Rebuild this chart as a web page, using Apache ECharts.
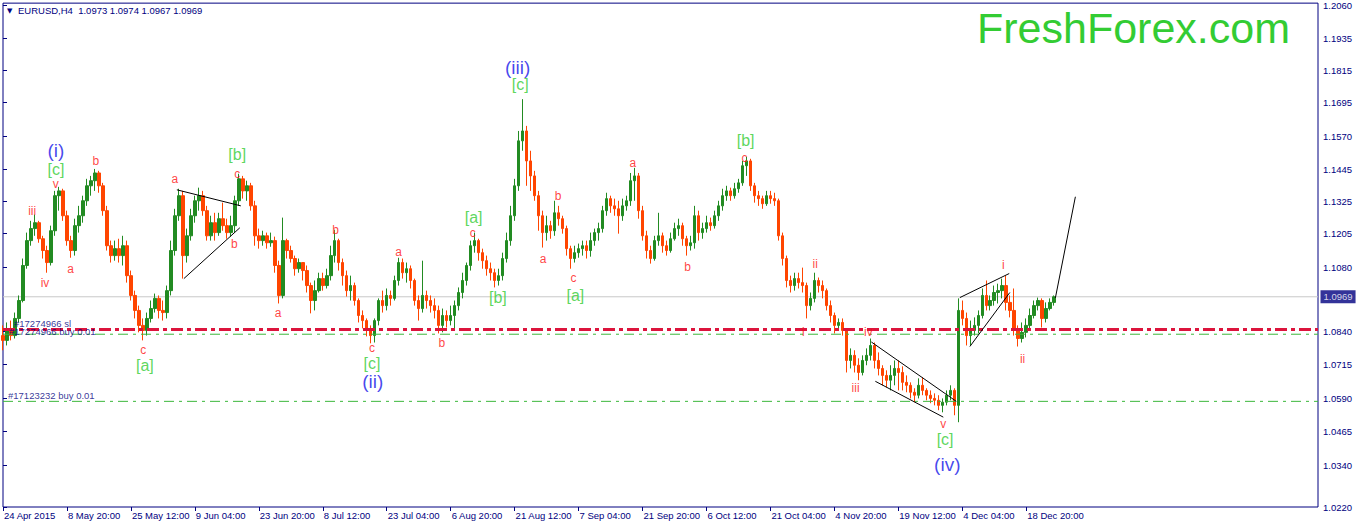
<!DOCTYPE html>
<html><head><meta charset="utf-8">
<script src="https://cdn.jsdelivr.net/npm/echarts@6/dist/echarts.min.js"></script>
<style>html,body{margin:0;padding:0;background:#fff}#chart{width:1358px;height:527px}</style>
</head><body><div id="chart"></div>
<script>
// ---- data (EURUSD H4, one entry per ~4 bars) ----
const xTickLabels = ['24 Apr 2015','8 May 20:00','25 May 12:00','9 Jun 04:00','23 Jun 20:00','8 Jul 12:00','23 Jul 04:00','6 Aug 20:00','21 Aug 12:00','7 Sep 04:00','21 Sep 20:00','6 Oct 12:00','21 Oct 04:00','4 Nov 20:00','19 Nov 12:00','4 Dec 04:00','18 Dec 20:00'];
const barsPerLabel = 16;
const slotCount = 330;
const yTickValues = [1.2060,1.1935,1.1815,1.1695,1.1570,1.1445,1.1325,1.1205,1.1080,1.0840,1.0715,1.0590,1.0465,1.0340,1.0183];
const yTickLabels = ['1.2060','1.1935','1.1815','1.1695','1.1570','1.1445','1.1325','1.1205','1.1080','1.0840','1.0715','1.0590','1.0465','1.0340','1.0220'];
const priceMin = 1.0183, priceMax = 1.2067;
const headerQuote = ['1.0973','1.0974','1.0967','1.0969'];
const lastPrice = 1.0969;
const stopLevel = 1.0847, buyLevelA = 1.0829, buyLevelB = 1.0578;

// [open, close, low, high]
const ohlc = [
[1.0824,1.0806,1.0769,1.0862],[1.0806,1.0843,1.0787,1.0873],[1.0843,1.0824,1.0806,1.0880],[1.0824,1.0888,1.0813,1.0910],
[1.0888,1.0955,1.0873,1.0974],[1.0955,1.1086,1.0948,1.1112],[1.1086,1.1179,1.1074,1.1209],[1.1179,1.1224,1.1160,1.1253],
[1.1224,1.1246,1.1197,1.1276],[1.1246,1.1186,1.1171,1.1253],[1.1186,1.1142,1.1112,1.1197],[1.1142,1.1097,1.1059,1.1160],
[1.1097,1.1216,1.1086,1.1235],[1.1216,1.1347,1.1197,1.1365],[1.1347,1.1365,1.1291,1.1380],[1.1365,1.1272,1.1253,1.1373],
[1.1272,1.1179,1.1160,1.1291],[1.1179,1.1142,1.1115,1.1197],[1.1142,1.1235,1.1123,1.1261],[1.1235,1.1272,1.1209,1.1309],
[1.1272,1.1328,1.1246,1.1347],[1.1328,1.1384,1.1309,1.1410],[1.1384,1.1403,1.1347,1.1421],[1.1403,1.1432,1.1365,1.1447],
[1.1432,1.1384,1.1358,1.1440],[1.1384,1.1291,1.1272,1.1395],[1.1291,1.1160,1.1142,1.1309],[1.1160,1.1123,1.1097,1.1179],
[1.1123,1.1149,1.1104,1.1179],[1.1149,1.1123,1.1097,1.1186],[1.1123,1.1160,1.1086,1.1197],[1.1160,1.1048,1.1022,1.1179],
[1.1048,1.0974,1.0955,1.1067],[1.0974,1.0918,1.0888,1.0992],[1.0918,1.0862,1.0836,1.0936],[1.0862,1.0843,1.0806,1.0888],
[1.0843,1.0888,1.0824,1.0910],[1.0888,1.0925,1.0873,1.0955],[1.0925,1.0963,1.0910,1.0981],[1.0963,1.0918,1.0888,1.0974],
[1.0918,1.0910,1.0880,1.0955],[1.0910,1.0992,1.0888,1.1011],[1.0992,1.1142,1.0974,1.1179],[1.1142,1.1272,1.1123,1.1298],
[1.1272,1.1347,1.1253,1.1373],[1.1347,1.1123,1.1037,1.1365],[1.1123,1.1197,1.1097,1.1224],[1.1197,1.1272,1.1179,1.1298],
[1.1272,1.1328,1.1246,1.1347],[1.1328,1.1347,1.1291,1.1377],[1.1347,1.1291,1.1272,1.1365],[1.1291,1.1197,1.1179,1.1309],
[1.1197,1.1246,1.1179,1.1272],[1.1246,1.1209,1.1179,1.1283],[1.1209,1.1261,1.1197,1.1283],[1.1261,1.1235,1.1216,1.1321],
[1.1235,1.1209,1.1186,1.1261],[1.1209,1.1235,1.1194,1.1272],[1.1235,1.1328,1.1209,1.1347],[1.1328,1.1410,1.1309,1.1429],
[1.1410,1.1365,1.1336,1.1421],[1.1365,1.1384,1.1328,1.1403],[1.1384,1.1309,1.1291,1.1395],[1.1309,1.1197,1.1160,1.1328],
[1.1197,1.1179,1.1149,1.1224],[1.1179,1.1197,1.1160,1.1216],[1.1197,1.1171,1.1149,1.1209],[1.1171,1.1179,1.1156,1.1209],
[1.1179,1.1086,1.1059,1.1194],[1.1086,1.0974,1.0944,1.1104],[1.0974,1.1179,1.0963,1.1265],[1.1179,1.1142,1.1112,1.1186],
[1.1142,1.1112,1.1097,1.1160],[1.1112,1.1074,1.1048,1.1123],[1.1074,1.1097,1.1059,1.1112],[1.1097,1.1067,1.1030,1.1097],
[1.1067,1.1011,1.0985,1.1086],[1.1011,1.0955,1.0907,1.1022],[1.0955,1.0992,1.0918,1.1030],[1.0992,1.1037,1.0985,1.1059],
[1.1037,1.1011,1.0992,1.1059],[1.1011,1.1048,1.1000,1.1074],[1.1048,1.1123,1.1030,1.1160],[1.1123,1.1179,1.1097,1.1220],
[1.1179,1.1097,1.1067,1.1186],[1.1097,1.1048,1.1011,1.1112],[1.1048,1.0992,1.0970,1.1067],[1.0992,1.1011,1.0955,1.1048],
[1.1011,1.0955,1.0936,1.1022],[1.0955,1.0899,1.0873,1.0963],[1.0899,1.0880,1.0851,1.0918],[1.0880,1.0843,1.0821,1.0888],
[1.0843,1.0824,1.0795,1.0862],[1.0824,1.0880,1.0798,1.0888],[1.0880,1.0955,1.0862,1.0963],[1.0955,1.0936,1.0910,1.0992],
[1.0936,1.0974,1.0918,1.1000],[1.0974,1.0963,1.0936,1.0992],[1.0963,1.1030,1.0955,1.1048],[1.1030,1.1097,1.1011,1.1115],
[1.1097,1.1059,1.1037,1.1112],[1.1059,1.1074,1.1022,1.1097],[1.1074,1.1030,1.1000,1.1086],[1.1030,1.0955,1.0936,1.1037],
[1.0955,1.0925,1.0880,1.0974],[1.0925,1.0974,1.0910,1.1104],[1.0974,1.0955,1.0925,1.0992],[1.0955,1.0936,1.0910,1.0974],
[1.0936,1.0918,1.0888,1.0963],[1.0918,1.0862,1.0832,1.0936],[1.0862,1.0899,1.0836,1.0925],[1.0899,1.0880,1.0854,1.0918],
[1.0880,1.0899,1.0862,1.0936],[1.0899,1.0936,1.0843,1.0955],[1.0936,1.0985,1.0918,1.1004],[1.0985,1.1030,1.0963,1.1059],
[1.1030,1.1086,1.1011,1.1097],[1.1086,1.1160,1.1067,1.1179],[1.1160,1.1179,1.1134,1.1209],[1.1179,1.1134,1.1104,1.1186],
[1.1134,1.1104,1.1074,1.1149],[1.1104,1.1074,1.1048,1.1123],[1.1074,1.1059,1.1030,1.1097],[1.1059,1.1030,1.1004,1.1074],
[1.1030,1.1048,1.1011,1.1074],[1.1048,1.1112,1.1030,1.1134],[1.1112,1.1179,1.1097,1.1209],[1.1179,1.1272,1.1160,1.1309],
[1.1272,1.1384,1.1253,1.1410],[1.1384,1.1552,1.1365,1.1589],[1.1552,1.1589,1.1515,1.1708],[1.1589,1.1477,1.1384,1.1608],
[1.1477,1.1421,1.1365,1.1515],[1.1421,1.1347,1.1328,1.1440],[1.1347,1.1272,1.1216,1.1365],[1.1272,1.1209,1.1153,1.1291],
[1.1209,1.1235,1.1179,1.1272],[1.1235,1.1216,1.1186,1.1253],[1.1216,1.1283,1.1197,1.1328],[1.1283,1.1261,1.1235,1.1309],
[1.1261,1.1224,1.1205,1.1272],[1.1224,1.1149,1.1123,1.1235],[1.1149,1.1112,1.1074,1.1160],[1.1112,1.1134,1.1097,1.1160],
[1.1134,1.1149,1.1115,1.1168],[1.1149,1.1160,1.1123,1.1179],[1.1160,1.1142,1.1112,1.1179],[1.1142,1.1179,1.1119,1.1209],
[1.1179,1.1209,1.1160,1.1224],[1.1209,1.1224,1.1179,1.1246],[1.1224,1.1291,1.1209,1.1309],[1.1291,1.1336,1.1272,1.1358],
[1.1336,1.1309,1.1283,1.1347],[1.1309,1.1298,1.1272,1.1336],[1.1298,1.1272,1.1205,1.1328],[1.1272,1.1309,1.1253,1.1336],
[1.1309,1.1328,1.1291,1.1347],[1.1328,1.1403,1.1309,1.1432],[1.1403,1.1421,1.1328,1.1451],[1.1421,1.1291,1.1261,1.1432],
[1.1291,1.1197,1.1179,1.1309],[1.1197,1.1142,1.1112,1.1216],[1.1142,1.1112,1.1093,1.1160],[1.1112,1.1179,1.1104,1.1197],
[1.1179,1.1197,1.1160,1.1283],[1.1197,1.1160,1.1134,1.1209],[1.1160,1.1142,1.1123,1.1179],[1.1142,1.1186,1.1134,1.1209],
[1.1186,1.1224,1.1179,1.1246],[1.1224,1.1235,1.1197,1.1261],[1.1235,1.1186,1.1160,1.1246],[1.1186,1.1160,1.1123,1.1197],
[1.1160,1.1171,1.1142,1.1197],[1.1171,1.1272,1.1149,1.1309],[1.1272,1.1209,1.1179,1.1291],[1.1209,1.1224,1.1186,1.1246],
[1.1224,1.1246,1.1209,1.1272],[1.1246,1.1235,1.1216,1.1265],[1.1235,1.1272,1.1224,1.1291],[1.1272,1.1309,1.1253,1.1328],
[1.1309,1.1347,1.1291,1.1373],[1.1347,1.1365,1.1328,1.1384],[1.1365,1.1347,1.1328,1.1377],[1.1347,1.1373,1.1336,1.1395],
[1.1373,1.1395,1.1358,1.1410],[1.1395,1.1459,1.1384,1.1477],[1.1459,1.1477,1.1421,1.1492],[1.1477,1.1384,1.1365,1.1485],
[1.1384,1.1347,1.1321,1.1395],[1.1347,1.1336,1.1309,1.1365],[1.1336,1.1317,1.1298,1.1347],[1.1317,1.1347,1.1309,1.1365],
[1.1347,1.1336,1.1317,1.1365],[1.1336,1.1328,1.1309,1.1358],[1.1328,1.1197,1.1179,1.1336],[1.1197,1.1112,1.1086,1.1209],
[1.1112,1.1030,1.1004,1.1123],[1.1030,1.1011,1.0985,1.1048],[1.1011,1.1037,1.0992,1.1059],[1.1037,1.1022,1.1000,1.1059],
[1.1022,1.1011,1.0985,1.1078],[1.1011,1.0936,1.0888,1.1022],[1.0936,1.0963,1.0918,1.0985],[1.0963,1.1030,1.0948,1.1059],
[1.1030,1.1011,1.0985,1.1041],[1.1011,1.0992,1.0963,1.1030],[1.0992,1.0936,1.0918,1.1000],[1.0936,1.0899,1.0873,1.0955],
[1.0899,1.0862,1.0832,1.0910],[1.0862,1.0873,1.0843,1.0888],[1.0873,1.0843,1.0824,1.0888],[1.0843,1.0731,1.0686,1.0851],
[1.0731,1.0750,1.0701,1.0776],[1.0750,1.0713,1.0686,1.0769],[1.0713,1.0686,1.0657,1.0739],[1.0686,1.0731,1.0675,1.0750],
[1.0731,1.0750,1.0713,1.0776],[1.0750,1.0787,1.0731,1.0813],[1.0787,1.0731,1.0701,1.0798],[1.0731,1.0701,1.0675,1.0761],
[1.0701,1.0675,1.0638,1.0713],[1.0675,1.0657,1.0630,1.0694],[1.0657,1.0675,1.0619,1.0713],[1.0675,1.0701,1.0638,1.0731],
[1.0701,1.0686,1.0619,1.0731],[1.0686,1.0649,1.0619,1.0709],[1.0649,1.0638,1.0612,1.0675],[1.0638,1.0612,1.0589,1.0649],
[1.0612,1.0601,1.0575,1.0627],[1.0601,1.0638,1.0589,1.0664],[1.0638,1.0619,1.0601,1.0668],[1.0619,1.0601,1.0582,1.0627],
[1.0601,1.0589,1.0571,1.0619],[1.0589,1.0582,1.0563,1.0608],[1.0582,1.0563,1.0545,1.0601],[1.0563,1.0575,1.0537,1.0589],
[1.0575,1.0601,1.0563,1.0619],[1.0601,1.0619,1.0582,1.0638],[1.0619,1.0563,1.0526,1.0627],[1.0563,1.0918,1.0500,1.0963],
[1.0918,1.0888,1.0862,1.0955],[1.0888,1.0824,1.0787,1.0910],[1.0824,1.0843,1.0787,1.0880],[1.0843,1.0862,1.0824,1.0892],
[1.0862,1.0899,1.0832,1.0918],[1.0899,1.0974,1.0888,1.1000],[1.0974,1.0936,1.0918,1.1030],[1.0936,1.0955,1.0918,1.0974],
[1.0955,1.0985,1.0936,1.1011],[1.0985,1.0992,1.0944,1.1018],[1.0992,1.1011,1.0963,1.1037],[1.1011,1.0948,1.0918,1.1048],
[1.0948,1.0918,1.0892,1.0974],[1.0918,1.0843,1.0824,1.1000],[1.0843,1.0813,1.0783,1.0862],[1.0813,1.0836,1.0798,1.0873],
[1.0836,1.0862,1.0817,1.0888],[1.0862,1.0899,1.0843,1.0925],[1.0899,1.0936,1.0888,1.0955],[1.0936,1.0955,1.0918,1.0966],
[1.0955,1.0888,1.0854,1.0963],[1.0888,1.0925,1.0873,1.0948],[1.0925,1.0948,1.0918,1.0963],[1.0948,1.0969,1.0936,1.0974]
];

// wave labels: [bar slot, price, text]
const waveBlue = [[13.25,1.1515,'(i)'],[92.5,1.0653,'(ii)'],[128.75,1.1828,'(iii)'],[236.25,1.0343,'(iv)']];
const waveGreen = [[13.25,1.1444,'[c]'],[35.5,1.0713,'[a]'],[58.6,1.1500,'[b]'],[92.3,1.0720,'[c]'],[117.75,1.1265,'[a]'],
  [123.8,1.0966,'[b]'],[129.4,1.1761,'[c]'],[143.2,1.0974,'[a]'],[185.8,1.1552,'[b]'],[235.7,1.0437,'[c]']];
const waveRed = [[7.3,1.1291,'iii'],[10.5,1.1022,'iv'],[13.2,1.1391,'v'],[16.9,1.1074,'a'],[23.2,1.1477,'b'],[35.1,1.0769,'c'],
  [43,1.1410,'a'],[58.6,1.1428,'c'],[57.9,1.1168,'b'],[68.8,1.0910,'a'],[83.2,1.1220,'b'],[92.3,1.0776,'c'],[99,1.1138,'a'],
  [109.8,1.0798,'b'],[117.5,1.1209,'c'],[135.1,1.1112,'a'],[138.9,1.1347,'b'],[142.75,1.1041,'c'],[157.6,1.1470,'a'],
  [171.3,1.1082,'b'],[185.5,1.1488,'c'],[203.2,1.1093,'ii'],[200.25,1.0839,'i'],[216.5,1.0839,'iv'],[213.3,1.0627,'iii'],
  [235.25,1.0493,'v'],[250.25,1.1086,'i'],[255.1,1.0735,'ii']];
const orderNotes = [[1.25,1.0601,'#17123232 buy 0.01'],[1.5,1.0838,'#17274966 buy 0.01'],[2.75,1.0870,'#17274966 sl']];
const trendLines = [
  [[43.5,1.1369],[59.5,1.1309]],
  [[45.25,1.1037],[59.25,1.1227]],
  [[217.25,1.0800],[238.5,1.0578]],
  [[218.25,1.0653],[235.25,1.0519]],
  [[239.4,1.0966],[251.75,1.1056]],
  [[241.9,1.0783],[251.9,1.0985]]
];
const projection = [[263.3,1.0965],[268.3,1.1343]];

// ---- chart ----
const navy = '#000080';
const font = 'Liberation Sans';
const categories = Array.from({length: slotCount}, (_, i) => String(i));
const showTick = (i) => i % barsPerLabel === 0 && i / barsPerLabel < xTickLabels.length;

function labelSeries(list, color, size, extra) {
  return {
    type: 'scatter', xAxisIndex: 1, yAxisIndex: 0, symbolSize: 1, silent: true, z: 6, clip: false,
    itemStyle: {color: 'rgba(0,0,0,0)'},
    data: list.map(d => ({value: [d[0], d[1]], name: d[2]})),
    label: Object.assign({show: true, position: 'inside', formatter: '{b}', color: color, fontSize: size, fontFamily: font}, extra || {})
  };
}
function levelLine(level, style, z) {
  return {type: 'line', xAxisIndex: 1, yAxisIndex: 0, data: [[0, level], [slotCount - 1, level]], symbol: 'none',
    silent: true, z: z, lineStyle: style};
}

const series = [
  levelLine(lastPrice, {color: '#c8c8c8', width: 1, type: 'solid'}, 1),
  {
    type: 'candlestick', xAxisIndex: 0, yAxisIndex: 0, data: ohlc, barWidth: 3, z: 2,
    itemStyle: {color: '#228b22', color0: '#ff4500', borderColor: '#228b22', borderColor0: '#ff4500', borderWidth: 1}
  },
  levelLine(buyLevelA, {color: '#3cb83c', width: 1, type: [10, 5, 3, 5]}, 3),
  levelLine(buyLevelB, {color: '#3cb83c', width: 1, type: [10, 5, 3, 5]}, 3),
  levelLine(stopLevel, {color: '#dc143c', width: 3, type: [12, 4, 4, 4]}, 3),
  labelSeries(waveBlue, '#1616e8', 19),
  labelSeries(waveGreen, '#33cc33', 16),
  labelSeries(waveRed, '#ff1010', 12),
  labelSeries(orderNotes, navy, 9.5, {align: 'left'}),
  labelSeries([[slotCount - 1, lastPrice, lastPrice.toFixed(4)]], '#fff', 9.5,
    {position: 'right', distance: 2, backgroundColor: navy, padding: [2, 3, 1, 3]})
];
trendLines.concat([projection]).forEach(seg => series.push({
  type: 'line', xAxisIndex: 1, yAxisIndex: 0, data: seg, symbol: 'none', silent: true, z: 5,
  lineStyle: {color: '#000', width: 1}
}));

const chart = echarts.init(document.getElementById('chart'), null, {renderer: 'svg'});
chart.setOption({
  animation: false,
  backgroundColor: '#fff',
  grid: {left: 3, right: 40, top: 2, bottom: 20, show: true, borderColor: navy, borderWidth: 1, backgroundColor: 'transparent'},
  xAxis: [
    {
      type: 'category', data: categories, boundaryGap: false,
      axisLine: {show: false},
      axisTick: {show: true, interval: showTick, length: 4, lineStyle: {color: navy}},
      axisLabel: {interval: showTick, formatter: (v, i) => xTickLabels[i / barsPerLabel] || '', align: 'left',
        padding: [0, 0, 0, 1], margin: 3, fontSize: 9.5, color: navy, fontFamily: font},
      splitLine: {show: false}
    },
    {type: 'value', min: 0, max: slotCount - 1, show: false}
  ],
  yAxis: {
    type: 'value', position: 'right', min: priceMin, max: priceMax, scale: true,
    axisLine: {show: false}, splitLine: {show: false},
    axisTick: {show: true, length: 4, customValues: yTickValues, lineStyle: {color: navy}},
    axisLabel: {customValues: yTickValues, margin: 5, fontSize: 9.5, color: navy, fontFamily: font,
      formatter: (v) => { const i = yTickValues.findIndex(t => Math.abs(t - v) < 1e-6); return i >= 0 ? yTickLabels[i] : ''; }}
  },
  graphic: [
    {type: 'text', left: 7, top: 7, silent: true, style: {text: '▼', font: '7px "DejaVu Sans"', fill: navy}},
    {type: 'text', left: 18, top: 5, silent: true, style: {text: 'EURUSD,H4  ' + headerQuote.join(' '), font: '9.5px "Liberation Sans"', fill: navy}},
    {type: 'text', left: 977, top: 6, silent: true, style: {text: 'FreshForex.com', font: '43px "Liberation Sans"', fill: '#33cc33'}}
  ],
  series: series
});
</script>
</body></html>
